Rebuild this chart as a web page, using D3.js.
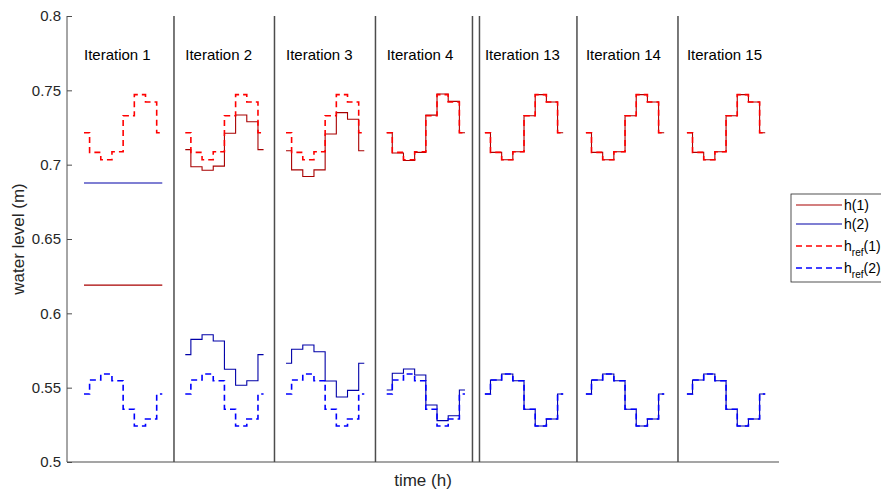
<!DOCTYPE html>
<html>
<head>
<meta charset="utf-8">
<script src="https://cdn.jsdelivr.net/npm/d3@7"></script>
<style>
  body { margin: 0; background: #fff; overflow: hidden; }
  svg { font-family: "Liberation Sans", Arial, sans-serif; display: block; }
</style>
</head>
<body>
<svg id="chart" width="881" height="492"></svg>
<script>
// panels (one per iteration) on a shared time axis, hours
const iterations = ["Iteration 1", "Iteration 2", "Iteration 3", "Iteration 4", "Iteration 13", "Iteration 14", "Iteration 15"];
const panelStart = [4.56, 31.73, 58.75, 85.76, 112.1, 139.2, 166.3];
const panelEdges = [28.7, 55.66, 82.75, 108.77, 110.65, 136.8, 163.9];
const sampleStep = 3;

// reference levels (same in every panel)
const hRef1 = [0.7215, 0.7083, 0.7033, 0.7087, 0.7329, 0.7471, 0.7422, 0.7215];
const hRef2 = [0.5457, 0.5552, 0.5592, 0.5547, 0.5355, 0.5242, 0.5289, 0.5457];

// measured levels per iteration
const h1 = [
  [0.619, 0.619, 0.619, 0.619, 0.619, 0.619, 0.619, 0.619],
  [0.7101, 0.6986, 0.6962, 0.6990, 0.7211, 0.7334, 0.7289, 0.7101],
  [0.7094, 0.6965, 0.6920, 0.6965, 0.7206, 0.7350, 0.7305, 0.7094],
  [0.7215, 0.7078, 0.7028, 0.7083, 0.7333, 0.7475, 0.7426, 0.7215],
  [0.7215, 0.7083, 0.7033, 0.7087, 0.7329, 0.7471, 0.7422, 0.7215],
  [0.7215, 0.7083, 0.7033, 0.7087, 0.7329, 0.7471, 0.7422, 0.7215],
  [0.7215, 0.7083, 0.7033, 0.7087, 0.7329, 0.7471, 0.7422, 0.7215]
];
const h2 = [
  [0.6877, 0.6877, 0.6877, 0.6877, 0.6877, 0.6877, 0.6877, 0.6877],
  [0.5722, 0.5825, 0.5856, 0.5814, 0.5624, 0.5516, 0.5547, 0.5722],
  [0.5664, 0.5758, 0.5787, 0.5742, 0.5545, 0.5437, 0.5482, 0.5664],
  [0.5484, 0.5597, 0.5626, 0.5585, 0.5383, 0.5278, 0.5311, 0.5484],
  [0.5457, 0.5552, 0.5592, 0.5547, 0.5355, 0.5242, 0.5289, 0.5457],
  [0.5457, 0.5552, 0.5592, 0.5547, 0.5355, 0.5242, 0.5289, 0.5457],
  [0.5457, 0.5552, 0.5592, 0.5547, 0.5355, 0.5242, 0.5289, 0.5457]
];

const yTicks = [0.5, 0.55, 0.6, 0.65, 0.7, 0.75, 0.8];
const yTickLabels = ["0.5", "0.55", "0.6", "0.65", "0.7", "0.75", "0.8"];

const seriesNames = ["h(1)", "h(2)", "h_ref(1)", "h_ref(2)"];

// styles
const colH1 = "#a80000", colH2 = "#0000a8", colRef1 = "#ff0000", colRef2 = "#0000ff";
const axisCol = "#4d4d4d";

const svg = d3.select("#chart");
const margin = { left: 67, right: 102, top: 16, bottom: 30 };
const width = +svg.attr("width"), height = +svg.attr("height");

const x = d3.scaleLinear().domain([0, 191]).range([margin.left, width - margin.right]);
const y = d3.scaleLinear().domain([0.5, 0.8]).range([height - margin.bottom, margin.top]);

// panel separators
svg.append("g").selectAll("line")
  .data(panelEdges)
  .join("line")
  .attr("x1", d => x(d)).attr("x2", d => x(d))
  .attr("y1", y(0.8)).attr("y2", y(0.5))
  .attr("stroke", axisCol).attr("stroke-width", 1.5);

// y axis (ticks inward)
const yAxis = svg.append("g")
  .attr("transform", `translate(${x(0)},0)`)
  .call(d3.axisLeft(y).tickValues(yTicks).tickFormat((d, i) => yTickLabels[i]).tickSize(-5).tickPadding(6));
yAxis.select(".domain").attr("stroke", axisCol).attr("d", `M0,${y(0.8)}V${y(0.5)}`);
yAxis.selectAll(".tick line").attr("stroke", axisCol);
yAxis.selectAll(".tick text").attr("fill", "#262626").style("font-size", "15px");

// x axis line
svg.append("line")
  .attr("x1", x(0)).attr("x2", x(191))
  .attr("y1", y(0.5)).attr("y2", y(0.5))
  .attr("stroke", axisCol).attr("stroke-width", 1.2);

// labels
svg.append("text")
  .attr("x", (x(0) + x(191)) / 2).attr("y", height - 6)
  .attr("text-anchor", "middle").attr("fill", "#262626")
  .style("font-size", "17px").text("time (h)");
svg.append("text")
  .attr("transform", `translate(24,${(y(0.5) + y(0.8)) / 2}) rotate(-90)`)
  .attr("text-anchor", "middle").attr("fill", "#262626")
  .style("font-size", "17px").text("water level (m)");

// step lines
const stepLine = d3.line().curve(d3.curveStep);
function pts(vals, p) {
  return vals.map((v, k) => [x(panelStart[p] + k * sampleStep), y(v)]);
}

const panels = svg.append("g").selectAll("g")
  .data(iterations)
  .join("g");

panels.append("text")
  .attr("x", (d, i) => x(panelStart[i]))
  .attr("y", 60)
  .attr("fill", "#000")
  .style("font-size", "15px")
  .text(d => d);

panels.append("path")
  .attr("d", (d, i) => stepLine(pts(h1[i], i)))
  .attr("fill", "none").attr("stroke", colH1).attr("stroke-width", 1.1);
panels.append("path")
  .attr("d", (d, i) => stepLine(pts(h2[i], i)))
  .attr("fill", "none").attr("stroke", colH2).attr("stroke-width", 1.1);
panels.append("path")
  .attr("d", (d, i) => stepLine(pts(hRef1, i)))
  .attr("fill", "none").attr("stroke", colRef1).attr("stroke-width", 1.6)
  .attr("stroke-dasharray", "6,4");
panels.append("path")
  .attr("d", (d, i) => stepLine(pts(hRef2, i)))
  .attr("fill", "none").attr("stroke", colRef2).attr("stroke-width", 1.6)
  .attr("stroke-dasharray", "6,4");

// legend (runs past the right edge, as in the original export)
const legend = svg.append("g").attr("transform", "translate(791,194)");
legend.append("rect")
  .attr("width", 100).attr("height", 88)
  .attr("fill", "#fff").attr("stroke", "#262626").attr("stroke-width", 0.8);
const legendRows = [
  { name: seriesNames[0], color: colH1, dash: null, w: 1.1, y: 11 },
  { name: seriesNames[1], color: colH2, dash: null, w: 1.1, y: 30 },
  { name: seriesNames[2], color: colRef1, dash: "6,4", w: 1.6, y: 52 },
  { name: seriesNames[3], color: colRef2, dash: "6,4", w: 1.6, y: 74 }
];
const rows = legend.selectAll(".row").data(legendRows).join("g")
  .attr("class", "row").attr("transform", d => `translate(0,${d.y})`);
rows.append("line")
  .attr("x1", 5).attr("x2", 51)
  .attr("stroke", d => d.color).attr("stroke-width", d => d.w)
  .attr("stroke-dasharray", d => d.dash);
rows.each(function (d) {
  const t = d3.select(this).append("text")
    .attr("x", 53).attr("y", 5).attr("fill", "#000").style("font-size", "14px");
  const parts = d.name.split("_");
  if (parts.length === 1) {
    t.text(d.name);
  } else {
    const sub = parts[1].split("(");
    t.append("tspan").text(parts[0]);
    t.append("tspan").attr("dy", 5).style("font-size", "10px").text(sub[0]);
    t.append("tspan").attr("dy", -5).text("(" + sub[1]);
  }
});
</script>
</body>
</html>
